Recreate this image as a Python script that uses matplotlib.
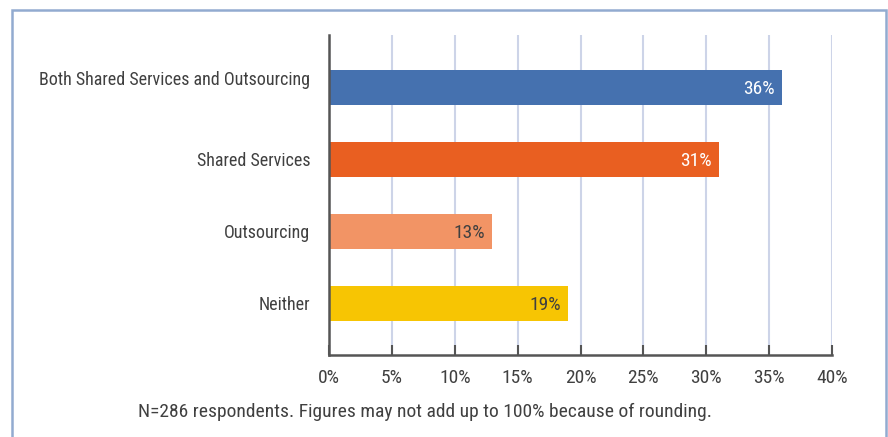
import matplotlib.pyplot as plt
from matplotlib.patches import Rectangle
from matplotlib import font_manager

categories = ["Both Shared Services and Outsourcing", "Shared Services", "Outsourcing", "Neither"]
values = [36, 31, 13, 19]
colors = ["#4571af", "#e95f21", "#f29465", "#f7c503"]
label_colors = ["white", "white", "#404040", "#404040"]
xticks = [0, 5, 10, 15, 20, 25, 30, 35, 40]
note = "N=286 respondents. Figures may not add up to 100% because of rounding."

# pick a condensed sans face if one is around
names = {f.name for f in font_manager.fontManager.ttflist}
family = next((n for n in ["Roboto Condensed", "Archivo Narrow", "Fira Sans Condensed",
                           "Barlow Condensed", "Liberation Sans Narrow"] if n in names),
              "DejaVu Sans")
plt.rcParams["font.family"] = family
plt.rcParams["font.stretch"] = "condensed"
text_color = "#404040"
fs = 14

fig = plt.figure(figsize=(8.88, 4.37), dpi=100)
ax = fig.add_axes([329 / 888, 1 - 355 / 437, (832 - 329) / 888, 320 / 437])

pos = range(len(categories))
ax.barh(pos, values, height=0.485, color=colors, zorder=3)
for i, v in enumerate(values):
    ax.text(v - 0.55, i, f"{v}%", ha="right", va="center_baseline", fontsize=fs,
            color=label_colors[i], zorder=4)

# category names, the long first one sits a little above its bar
for i, cat in enumerate(categories):
    dy = 6.5 if i == 0 else 0
    ax.annotate(cat, xy=(0, i), xycoords=("axes fraction", "data"),
                xytext=(-13.5, dy), textcoords="offset points",
                ha="right", va="center_baseline", fontsize=13, color=text_color)

ax.set_xlim(0, 40)
ax.set_ylim(3.72, -0.73)
ax.set_xticks(xticks)
ax.set_xticklabels([f"{t}%" for t in xticks], fontsize=fs, color=text_color)
ax.set_yticks([])
ax.xaxis.grid(True, color="#cdd4e8", linewidth=1.5, zorder=0)
ax.tick_params(axis="x", direction="in", length=7, width=1.5, color="#555555", pad=10)
for side in ["top", "right"]:
    ax.spines[side].set_visible(False)
for side in ["left", "bottom"]:
    ax.spines[side].set_color("#555555")
    ax.spines[side].set_linewidth(1.8)
    ax.spines[side].set_zorder(5)

fig.text(425 / 888, 1 - 412 / 437, note, ha="center", va="center", fontsize=fs,
         color=text_color)

# frame around the whole chart, open at the bottom
fig.patches.append(Rectangle((12 / 888, -0.1), (886 - 12) / 888, 1.1 - 10 / 437,
                             transform=fig.transFigure, fill=False,
                             edgecolor="#92abd0", linewidth=1.8))

fig.savefig("out.png", dpi=100)
